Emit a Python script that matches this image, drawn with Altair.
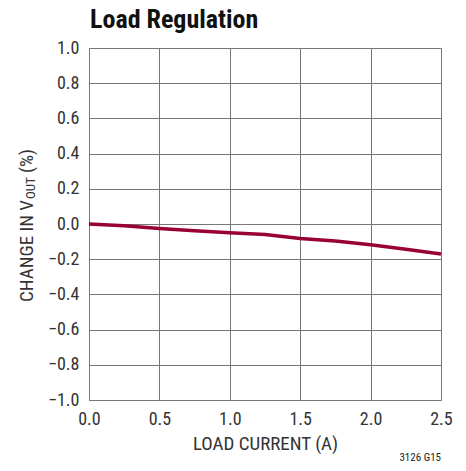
import altair as alt
import pandas as pd

# Data
load_current = [0.0, 0.25, 0.5, 0.75, 1.0, 1.25, 1.5, 1.75, 2.0, 2.25, 2.5]
vout_change = [0.0, -0.01, -0.025, -0.038, -0.05, -0.06, -0.082, -0.097, -0.118, -0.143, -0.17]

x_ticks = [0.0, 0.5, 1.0, 1.5, 2.0, 2.5]
y_ticks = [-1.0, -0.8, -0.6, -0.4, -0.2, 0.0, 0.2, 0.4, 0.6, 0.8, 1.0]

title_text = "Load Regulation"
x_title = "LOAD CURRENT (A)"
y_title_parts = ["CHANGE IN V", "OUT", "(%)"]
footnote = "3126 G15"

FONT = "Liberation Sans Narrow, Arial Narrow, Roboto Condensed, Liberation Sans, sans-serif"
LINE_COLOR = "#990033"
TEXT_COLOR = "#333"

W, H = 352, 352

df = pd.DataFrame({"current": load_current, "change": vout_change})

x_enc = alt.X(
    "current:Q",
    scale=alt.Scale(domain=[0, 2.5], nice=False, zero=False),
    axis=alt.Axis(
        values=x_ticks, format=".1f", title=x_title, grid=True,
        ticks=False, tickSize=0, domain=False,
        labelFont=FONT, labelFontSize=18, labelColor=TEXT_COLOR,
        labelPadding=10, labelFlush=False,
        titleFont=FONT, titleFontSize=19, titleFontWeight="normal",
        titleColor=TEXT_COLOR, titlePadding=6,
        gridColor="#777", gridWidth=1, gridOpacity=1,
    ),
)
y_enc = alt.Y(
    "change:Q",
    scale=alt.Scale(domain=[-1, 1], nice=False, zero=False),
    axis=alt.Axis(
        values=y_ticks, format=".1f", title=None, grid=True,
        ticks=False, tickSize=0, domain=False,
        labelFont=FONT, labelFontSize=18, labelColor=TEXT_COLOR,
        labelPadding=10, labelFlush=False,
        gridColor="#777", gridWidth=1, gridOpacity=1,
    ),
)

line = alt.Chart(df).mark_line(color=LINE_COLOR, strokeWidth=3.5).encode(
    x=x_enc, y=y_enc
)

ytitle_df = pd.DataFrame({
    "t": y_title_parts,
    "px": [-56, -54, -56],
    "py": [152, 151, 125],
    "fs": [19, 13, 19],
    "al": ["right", "left", "left"],
})

def ytext(i):
    row = ytitle_df.iloc[[i]]
    return alt.Chart(row).mark_text(
        font=FONT, fontSize=int(row["fs"].iloc[0]), angle=270,
        align=row["al"].iloc[0], baseline="alphabetic", color=TEXT_COLOR,
    ).encode(
        x=alt.value(int(row["px"].iloc[0])),
        y=alt.value(int(row["py"].iloc[0])),
        text="t:N",
    )

title_mark = alt.Chart(pd.DataFrame({"t": [title_text]})).mark_text(
    font=FONT, fontSize=26, fontWeight="bold", align="left",
    baseline="alphabetic", color="#111"
).encode(x=alt.value(1), y=alt.value(-20), text="t:N")

foot = alt.Chart(pd.DataFrame({"t": [footnote]})).mark_text(
    font=FONT, fontSize=11, align="right", baseline="alphabetic", color="#222"
).encode(x=alt.value(W), y=alt.value(413), text="t:N")

chart = alt.layer(line, ytext(0), ytext(1), ytext(2), title_mark, foot).properties(
    width=W, height=H,
    autosize=alt.AutoSizeParams(type="none"),
    padding={"left": 81, "top": 40, "right": 17, "bottom": 63},
).configure_view(
    stroke="#111", strokeWidth=2
).configure(background="white")

chart.save("out.html", embed_options={"renderer": "svg", "actions": False})
